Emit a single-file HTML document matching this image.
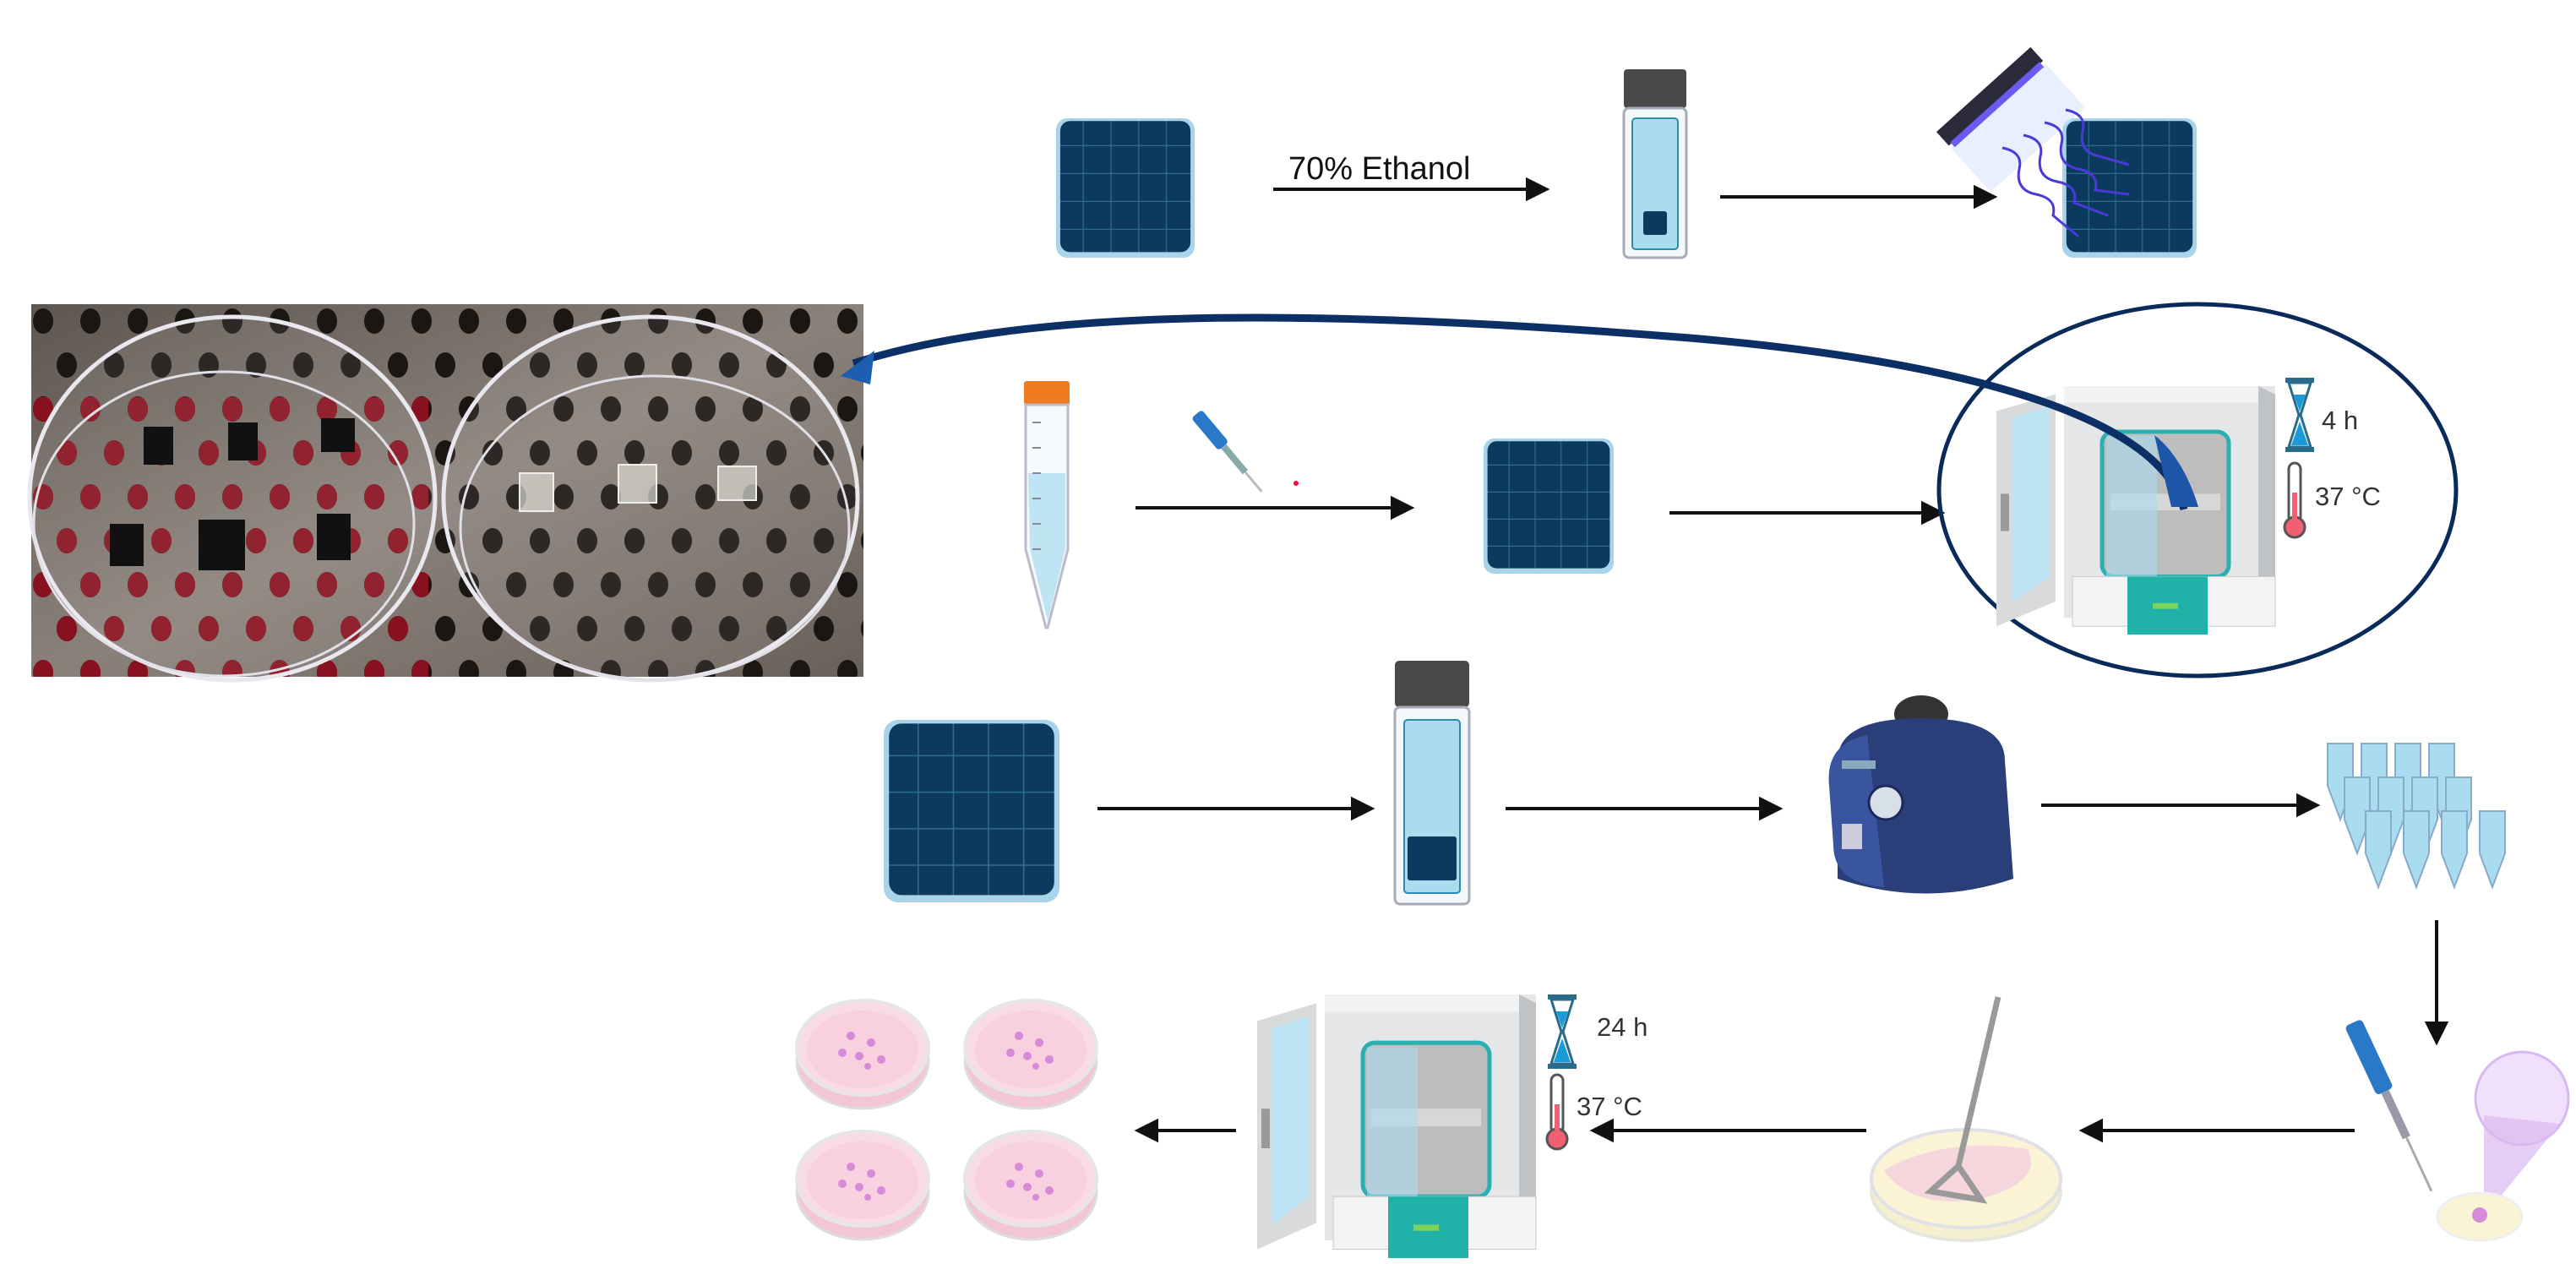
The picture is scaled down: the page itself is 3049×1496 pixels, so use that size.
<!DOCTYPE html>
<html><head><meta charset="utf-8"><style>
html,body{margin:0;padding:0;background:#fff;}
svg{display:block}
text{font-family:"Liberation Sans",sans-serif;}
</style></head><body>
<svg width="3049" height="1496" viewBox="0 0 3049 1496" xmlns="http://www.w3.org/2000/svg">
<defs>
<pattern id="grid" width="20" height="20" patternUnits="userSpaceOnUse">
<rect width="20" height="20" fill="#0b3a5e"/>
<path d="M20 0V20M0 20H20" stroke="#2f6a92" stroke-width="1.5"/>
</pattern>
<pattern id="holes" width="56" height="104" patternUnits="userSpaceOnUse" x="37" y="360">
<ellipse cx="14" cy="20" rx="12" ry="15" fill="#1a1614"/>
<ellipse cx="42" cy="72" rx="12" ry="15" fill="#1a1614"/>
</pattern>
<pattern id="redholes" width="56" height="104" patternUnits="userSpaceOnUse" x="37" y="360">
<ellipse cx="14" cy="20" rx="12" ry="15" fill="#9a1020"/>
<ellipse cx="42" cy="72" rx="12" ry="15" fill="#9a1020"/>
</pattern>
<linearGradient id="metal" x1="0" y1="0" x2="1" y2="1">
<stop offset="0" stop-color="#5e5650"/><stop offset="0.5" stop-color="#8a817a"/><stop offset="1" stop-color="#6a605a"/>
</linearGradient>
<g id="sq">
<rect x="0" y="0" width="100" height="100" rx="8" fill="#a9d3e8"/>
<rect x="3" y="2" width="94" height="94" rx="7" fill="url(#grid)"/>
</g>
<g id="incub">
<rect x="80" y="0" width="250" height="280" fill="#e4e6e8"/>
<polygon points="310,0 330,10 330,285 310,290" fill="#bfc3c6"/>
<rect x="80" y="0" width="230" height="20" fill="#f1f2f3"/>
<rect x="125" y="55" width="150" height="175" rx="14" fill="#bdbdbd" stroke="#2ab0b0" stroke-width="5"/>
<rect x="135" y="130" width="130" height="20" fill="#d7d7d7"/>
<rect x="130" y="60" width="60" height="200" fill="#a8dcef" opacity="0.6"/>
<rect x="90" y="230" width="240" height="60" fill="#f3f3f3" stroke="#c8c8c8"/>
<rect x="155" y="230" width="95" height="70" fill="#20b2a8"/>
<rect x="185" y="262" width="30" height="7" fill="#7dd35a"/>
<polygon points="0,30 70,10 70,260 0,290" fill="#d8dadc"/>
<polygon points="18,38 62,24 62,230 18,262" fill="#bfe5f4"/>
<rect x="5" y="130" width="10" height="45" fill="#999"/>
</g>
<g id="hour">
<rect x="0" y="0" width="34" height="6" fill="#2a6a8a"/>
<rect x="0" y="82" width="34" height="6" fill="#2a6a8a"/>
<path d="M4 6 L30 6 L18 44 L30 82 L4 82 L16 44Z" fill="#fff" stroke="#2a6a8a" stroke-width="3"/>
<path d="M10 20 L24 20 L17 40Z M17 52 L27 80 L7 80Z" fill="#1a9ad8"/>
</g>
<g id="therm">
<rect x="6" y="0" width="14" height="70" rx="7" fill="#fff" stroke="#555" stroke-width="3"/>
<circle cx="13" cy="76" r="12" fill="#f06070" stroke="#555" stroke-width="3"/>
<rect x="10" y="35" width="6" height="40" fill="#f06070"/>
</g>
<g id="petri">
<ellipse cx="0" cy="16" rx="78" ry="56" fill="#f3c6d6" stroke="#ddd" stroke-width="3"/>
<ellipse cx="0" cy="0" rx="78" ry="56" fill="#f9dbe6" stroke="#e6e6ea" stroke-width="4"/>
<ellipse cx="0" cy="2" rx="66" ry="46" fill="#f8d0e0"/>
<circle cx="-14" cy="-14" r="5" fill="#d68ad8"/><circle cx="10" cy="-6" r="5" fill="#d68ad8"/>
<circle cx="-4" cy="10" r="5" fill="#d68ad8"/><circle cx="22" cy="14" r="5" fill="#d68ad8"/>
<circle cx="-24" cy="6" r="5" fill="#d68ad8"/><circle cx="6" cy="22" r="4" fill="#d68ad8"/>
</g>
</defs>

<!-- arrows -->
<g stroke="#111" stroke-width="4" fill="#111">
<line x1="1507" y1="224" x2="1815" y2="224"/><polygon points="1830,224 1808,213 1808,235"/>
<line x1="2036" y1="233" x2="2345" y2="233"/><polygon points="2360,233 2338,222 2338,244"/>
<line x1="1344" y1="601" x2="1655" y2="601"/><polygon points="1670,601 1648,590 1648,612"/>
<line x1="1976" y1="607" x2="2283" y2="607"/><polygon points="2298,607 2276,596 2276,618"/>
<line x1="1299" y1="957" x2="1608" y2="957"/><polygon points="1623,957 1601,946 1601,968"/>
<line x1="1782" y1="957" x2="2091" y2="957"/><polygon points="2106,957 2084,946 2084,968"/>
<line x1="2416" y1="953" x2="2727" y2="953"/><polygon points="2742,953 2720,942 2720,964"/>
<line x1="2884" y1="1089" x2="2884" y2="1218"/><polygon points="2884,1233 2873,1211 2895,1211"/>
<line x1="2787" y1="1338" x2="2480" y2="1338"/><polygon points="2465,1338 2487,1327 2487,1349"/>
<line x1="2209" y1="1338" x2="1901" y2="1338"/><polygon points="1886,1338 1908,1327 1908,1349"/>
<line x1="1463" y1="1338" x2="1362" y2="1338"/><polygon points="1347,1338 1369,1327 1369,1349"/>
</g>
<text x="1525" y="212" font-size="38" fill="#111">70% Ethanol</text>

<!-- row 1 -->
<use href="#sq" transform="translate(1250,140) scale(1.64,1.65)"/>
<rect x="1922" y="82" width="74" height="46" rx="4" fill="#4a4a4a"/>
<rect x="1922" y="128" width="74" height="177" rx="6" fill="#f4f8fa" stroke="#aab" stroke-width="3"/>
<rect x="1932" y="140" width="54" height="155" rx="4" fill="#a9dcef" stroke="#2a8ab0" stroke-width="2"/>
<rect x="1945" y="250" width="28" height="28" rx="3" fill="#0b3a5e"/>
<use href="#sq" transform="translate(2441,140) scale(1.59,1.65)"/>
<g transform="translate(2300,165) rotate(-42)">
<rect x="0" y="14" width="150" height="70" fill="#d8e4ff" opacity="0.6"/>
<rect x="0" y="-12" width="150" height="22" fill="#2a2a3a"/>
<rect x="4" y="8" width="142" height="8" fill="#6a5af0"/>
</g>
<g fill="none" stroke="#4a3ad8" stroke-width="3">
<path d="M2370 175 q25 5 20 25 q-5 25 20 30 q25 5 20 25 l30 25"/>
<path d="M2395 160 q25 5 20 25 q-5 25 20 30 q25 5 20 25 l40 15"/>
<path d="M2420 145 q25 5 20 25 q-5 25 20 30 q25 5 20 25 l40 5"/>
<path d="M2445 130 q25 5 20 25 q-5 25 20 30 l35 10"/>
</g>

<!-- photo -->
<rect x="37" y="360" width="985" height="441" fill="url(#metal)"/>
<rect x="37" y="360" width="985" height="441" fill="url(#holes)"/>
<rect x="37" y="470" width="470" height="331" fill="url(#redholes)" opacity="0.85"/>
<ellipse cx="275" cy="590" rx="240" ry="215" fill="#fff" fill-opacity="0.08" stroke="#e8e8ee" stroke-width="5"/>
<ellipse cx="265" cy="620" rx="225" ry="180" fill="none" stroke="#e0e0e6" stroke-width="3"/>
<ellipse cx="770" cy="590" rx="245" ry="215" fill="#fff" fill-opacity="0.08" stroke="#e8e8ee" stroke-width="5"/>
<ellipse cx="775" cy="625" rx="230" ry="180" fill="none" stroke="#e0e0e6" stroke-width="3"/>
<g fill="#111">
<rect x="170" y="505" width="35" height="45"/><rect x="270" y="500" width="35" height="45"/><rect x="380" y="495" width="40" height="40"/>
<rect x="130" y="620" width="40" height="50"/><rect x="235" y="615" width="55" height="60"/><rect x="375" y="608" width="40" height="55"/>
</g>
<g fill="#d8d8d0" fill-opacity="0.7" stroke="#eee" stroke-width="2">
<rect x="615" y="560" width="40" height="45"/><rect x="732" y="550" width="45" height="45"/><rect x="850" y="552" width="45" height="40"/>
</g>

<!-- row 2 -->
<rect x="1212" y="451" width="54" height="28" rx="3" fill="#f07a20"/>
<path d="M1214 479 H1264 V650 L1240 743 L1238 743 L1214 650Z" fill="#f6fafc" stroke="#bbc" stroke-width="3"/>
<path d="M1217 560 H1261 V650 L1240 735 L1219 650Z" fill="#bfe5f4"/>
<g stroke="#889" stroke-width="2"><line x1="1222" y1="500" x2="1232" y2="500"/><line x1="1222" y1="530" x2="1232" y2="530"/><line x1="1222" y1="560" x2="1232" y2="560"/><line x1="1222" y1="590" x2="1232" y2="590"/><line x1="1222" y1="620" x2="1232" y2="620"/><line x1="1222" y1="650" x2="1232" y2="650"/></g>
<g transform="translate(1410,495) rotate(-40)">
<rect x="0" y="0" width="16" height="50" rx="4" fill="#2a78c8"/>
<rect x="4" y="50" width="8" height="40" fill="#8aa"/>
<line x1="8" y1="90" x2="8" y2="120" stroke="#bbb" stroke-width="3"/>
</g>
<circle cx="1534" cy="572" r="3" fill="#f04"/>
<use href="#sq" transform="translate(1756,519) scale(1.54,1.6)"/>
<ellipse cx="2601" cy="580" rx="306" ry="220" fill="none" stroke="#0a2a5a" stroke-width="5"/>
<use href="#incub" transform="translate(2363,457) scale(1.0,0.98)"/>
<use href="#hour" transform="translate(2705,447)"/>
<text x="2748" y="508" font-size="31" fill="#333">4 h</text>
<use href="#therm" transform="translate(2703,548)"/>
<text x="2740" y="598" font-size="31" fill="#333">37 °C</text>
<path d="M2585 603 C2560 500 2350 430 2000 400 C1500 360 1200 370 1010 430" fill="none" stroke="#0c2f66" stroke-width="9"/>
<path d="M2570 600 L2602 600 C2590 560 2570 530 2550 515Z" fill="#1d55a8"/>
<polygon points="995,445 1035,415 1030,455" fill="#1c5fb0"/>

<!-- row 3 -->
<use href="#sq" transform="translate(1046,852) scale(2.08,2.16)"/>
<rect x="1651" y="782" width="88" height="55" rx="5" fill="#4a4a4a"/>
<rect x="1651" y="837" width="88" height="233" rx="6" fill="#f4f8fa" stroke="#aab" stroke-width="3"/>
<rect x="1662" y="852" width="66" height="205" rx="4" fill="#a9dcef" stroke="#2a8ab0" stroke-width="2"/>
<rect x="1666" y="990" width="58" height="52" rx="3" fill="#0b3a5e"/>
<ellipse cx="2274" cy="845" rx="32" ry="22" fill="#333"/>
<path d="M2175 900 Q2175 850 2274 850 Q2373 850 2373 900 L2383 1040 Q2280 1075 2175 1040Z" fill="#2a3f7a"/>
<path d="M2165 930 Q2160 880 2210 870 L2230 1050 Q2170 1045 2170 1000Z" fill="#3a55a0"/>
<rect x="2180" y="900" width="40" height="10" fill="#8ab"/>
<circle cx="2232" cy="950" r="20" fill="#d8dfe8" stroke="#1a2a5a" stroke-width="3"/>
<rect x="2180" y="975" width="24" height="30" fill="#ccd"/>
<g fill="#a9dcef" stroke="#8ac" stroke-width="2">
<path d="M2755 880 h30 v50 l-15 40 l-15 -40z"/><path d="M2795 880 h30 v50 l-15 40 l-15 -40z"/><path d="M2835 880 h30 v50 l-15 40 l-15 -40z"/><path d="M2875 880 h30 v50 l-15 40 l-15 -40z"/>
<path d="M2775 920 h30 v50 l-15 40 l-15 -40z"/><path d="M2815 920 h30 v50 l-15 40 l-15 -40z"/><path d="M2855 920 h30 v50 l-15 40 l-15 -40z"/><path d="M2895 920 h30 v50 l-15 40 l-15 -40z"/>
<path d="M2800 960 h30 v50 l-15 40 l-15 -40z"/><path d="M2845 960 h30 v50 l-15 40 l-15 -40z"/><path d="M2890 960 h30 v50 l-15 40 l-15 -40z"/><path d="M2935 960 h30 v50 l-15 40 l-15 -40z"/>
</g>

<!-- row 4 -->
<circle cx="2985" cy="1300" r="55" fill="#f0e0fb" stroke="#d8b8f0" stroke-width="3"/>
<polygon points="2940,1320 3030,1330 2940,1440" fill="#dcb8f0" opacity="0.7"/>
<ellipse cx="2935" cy="1440" rx="50" ry="28" fill="#fbf3d6" stroke="#eee" stroke-width="3"/>
<circle cx="2935" cy="1438" r="9" fill="#d68ad8"/>
<g transform="translate(2775,1215) rotate(-25)">
<rect x="0" y="0" width="22" height="90" rx="5" fill="#2a78c8"/>
<rect x="6" y="90" width="10" height="60" fill="#99a"/>
<line x1="11" y1="150" x2="11" y2="220" stroke="#aaa" stroke-width="3"/>
</g>
<ellipse cx="2327" cy="1410" rx="112" ry="58" fill="#f6efcf" stroke="#e6e6e0" stroke-width="4"/>
<ellipse cx="2327" cy="1395" rx="112" ry="58" fill="#fbf3d6" stroke="#e0e0e6" stroke-width="4"/>
<path d="M2230 1385 Q2300 1345 2400 1360 Q2420 1400 2340 1420 Q2260 1430 2230 1385Z" fill="#f5d6dc"/>
<line x1="2365" y1="1180" x2="2318" y2="1380" stroke="#999" stroke-width="7"/>
<path d="M2318 1380 L2285 1410 L2345 1420Z" fill="none" stroke="#999" stroke-width="7"/>
<use href="#incub" transform="translate(1488,1177) scale(1.0,1.04)"/>
<use href="#hour" transform="translate(1832,1177)"/>
<text x="1890" y="1226" font-size="31" fill="#333">24 h</text>
<use href="#therm" transform="translate(1830,1272)"/>
<text x="1866" y="1320" font-size="31" fill="#333">37 °C</text>
<use href="#petri" transform="translate(1021,1240)"/>
<use href="#petri" transform="translate(1220,1240)"/>
<use href="#petri" transform="translate(1021,1395)"/>
<use href="#petri" transform="translate(1220,1395)"/>
</svg>
</body></html>
